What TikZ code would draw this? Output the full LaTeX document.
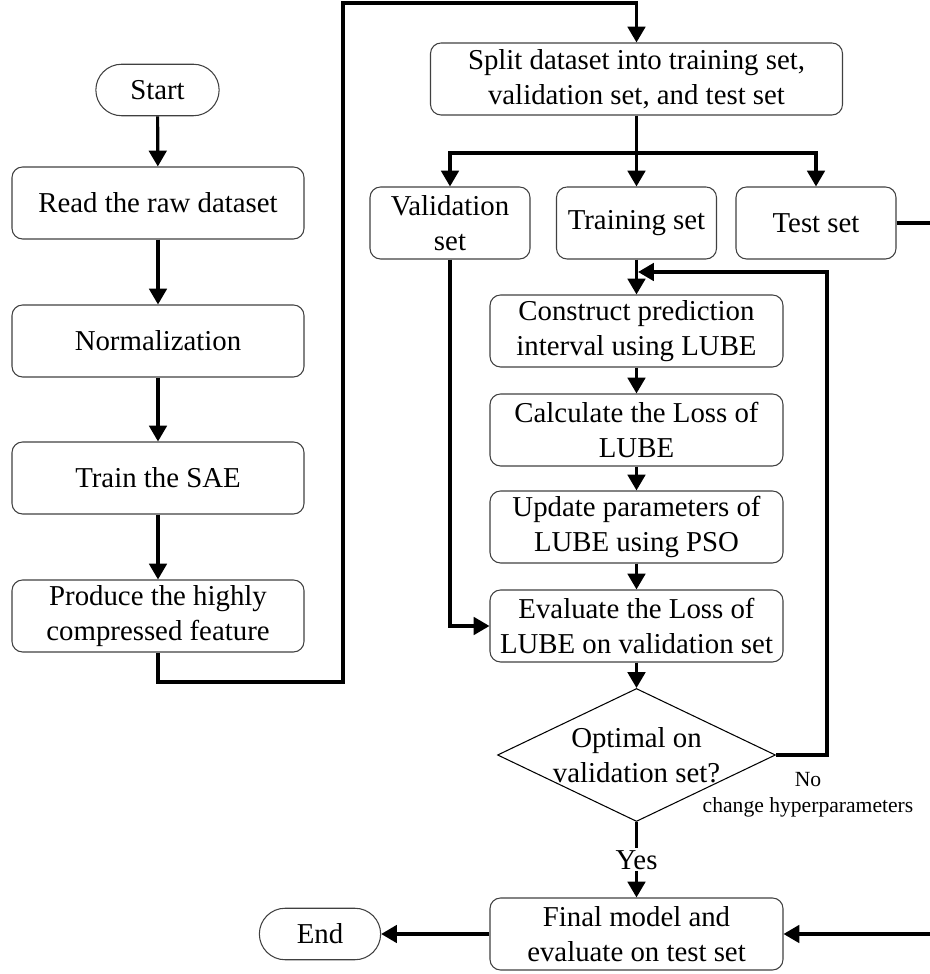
\documentclass[tikz,border=0pt]{standalone}
\usepackage{fontspec}
\setmainfont{Liberation Serif}
\usetikzlibrary{arrows.meta,shapes.geometric,shapes.misc}
\tikzset{
  procbox/.style={draw=black!75,line width=0.6pt,rounded corners=6pt,align=center,
    minimum height=1.44cm,inner sep=1pt},
  termbox/.style={draw=black!75,line width=0.6pt,rounded rectangle,
    minimum width=2.7cm,minimum height=1.03cm},
  decbox/.style={draw,line width=0.6pt,diamond,minimum width=5.56cm,
    minimum height=2.66cm,inner sep=0pt},
  flow/.style={line width=1.8pt,-{Triangle[length=9pt,width=10pt]}},
  link/.style={line width=1.8pt},
}

\begin{document}
\begin{tikzpicture}[font=\fontsize{16.4}{19.7}\selectfont]
        \useasboundingbox (0,0) rectangle (18.6,19.48);
        % left column
        \node[termbox] (start) at (3.15,17.68) {Start};
        \node[procbox,minimum width=5.84cm] (read) at (3.16,15.42) {Read the raw dataset};
        \node[procbox,minimum width=5.84cm] (norm) at (3.16,12.66) {Normalization};
        \node[procbox,minimum width=5.84cm] (sae) at (3.16,9.92) {Train the SAE};
        \node[procbox,minimum width=5.84cm] (produce) at (3.16,7.16) {Produce the highly\\compressed feature};
        % right column
        \node[procbox,minimum width=8.24cm] (split) at (12.73,17.90) {Split dataset into training set,\\validation set, and test set};
        \node[procbox,minimum width=3.2cm] (valid) at (9.0,15.02) {Validation\\set};
        \node[procbox,minimum width=3.2cm] (train) at (12.73,15.02) {Training set};
        \node[procbox,minimum width=3.2cm] (test) at (16.32,15.02) {Test set};
        \node[procbox,minimum width=5.86cm] (construct) at (12.73,12.86) {Construct prediction\\interval using LUBE};
        \node[procbox,minimum width=5.86cm] (calc) at (12.73,10.88) {Calculate the Loss of\\LUBE};
        \node[procbox,minimum width=5.86cm] (update) at (12.73,8.94) {Update parameters of\\LUBE using PSO};
        \node[procbox,minimum width=5.86cm] (eval) at (12.73,6.96) {Evaluate the Loss of\\LUBE on validation set};
        \node[decbox,label={[align=center,name=optlbl]center:Optimal on\\validation set?}] (opt) at (12.73,4.38) {};
        \node[procbox,minimum width=5.86cm] (final) at (12.73,0.80) {Final model and\\evaluate on test set};
        \node[termbox,minimum width=2.66cm] (end) at (6.4,0.80) {End};
        \node[align=center,font=\fontsize{12.3}{14.7}\selectfont] (nolbl) at (16.16,3.58) {No\\change hyperparameters};

        % route points
        \coordinate (low) at (6.86,5.84);
        \coordinate (high) at (6.86,19.42);
        \coordinate (fork) at (12.73,16.42);
        \coordinate (loop) at (16.54,14.04);
        \coordinate (join) at (train.south |- loop);
        \coordinate (rim) at (18.72,15.02);

        % connectors
        \draw[flow] (start) -- (read);
        \draw[flow] (read) -- (norm);
        \draw[flow] (norm) -- (sae);
        \draw[flow] (sae) -- (produce);
        \draw[flow] (produce.south) |- (low) -- (high) -| (split.north);
        \draw[link] (split.south) -- (fork);
        \draw[flow] (fork) -| (valid.north);
        \draw[flow] (fork) -- (train.north);
        \draw[flow] (fork) -| (test.north);
        \draw[flow] (train) -- (construct);
        \draw[flow] (construct) -- (calc);
        \draw[flow] (calc) -- (update);
        \draw[flow] (update) -- (eval);
        \draw[flow] (eval) -- (opt);
        \draw[flow] (valid.south) |- (eval.west);
        \draw[flow] (opt.east) -| (loop) -- ([xshift=0.9pt]join);
        \draw[flow] (opt.south) -- node[fill=white,inner sep=1pt] (yes) {Yes} (final.north);
        \draw[flow] (final.west) -- (end.east);
        \draw[flow] (test.east) -- (rim) |- (final.east);
      \end{tikzpicture}
\end{document}
